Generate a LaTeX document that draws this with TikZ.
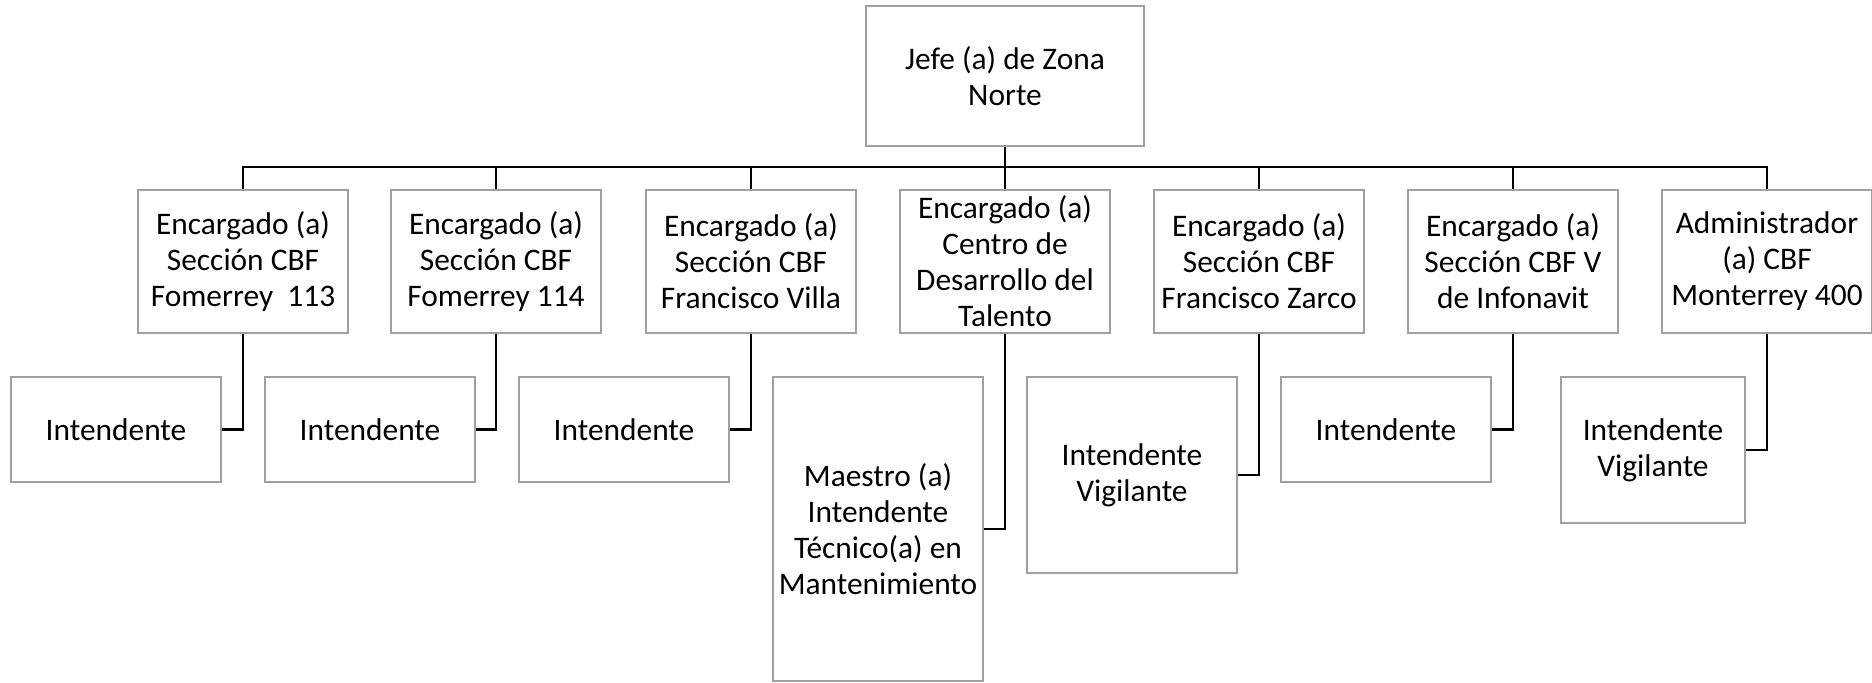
\documentclass[tikz,border=0pt]{standalone}
\usepackage{fontspec}
\setmainfont{Carlito}
\definecolor{boxgray}{RGB}{160,160,160}
\begin{document}
\begin{tikzpicture}[x=0.5pt,y=-0.5pt,
  box/.style={draw=boxgray, line width=0.6pt, align=center, inner sep=0pt,
    font=\fontsize{15.7}{18}\selectfont, text=black},
  lvl1/.style={box, minimum width=105pt, minimum height=71.5pt},
  lvl2/.style={box, minimum width=105pt, minimum height=52.5pt},
  conn/.style={draw=black, line width=1.3pt}]
\useasboundingbox (0,0) rectangle (1872,682);
\node[box, minimum width=139pt, minimum height=70pt] (top) at (1005,76) {Jefe (a) de Zona\\Norte};
\node[lvl1] (c1) at (243,261.5) {Encargado (a)\\Sección CBF\\Fomerrey\ \ 113};
\node[lvl1] (c2) at (496,261.5) {Encargado (a)\\Sección CBF\\Fomerrey 114};
\node[lvl1] (c3) at (751,261.5) {Encargado (a)\\Sección CBF\\Francisco Villa};
\node[lvl1] (c4) at (1005,261.5) {Encargado (a)\\Centro de\\Desarrollo del\\Talento};
\node[lvl1] (c5) at (1259,261.5) {Encargado (a)\\Sección CBF\\Francisco Zarco};
\node[lvl1] (c6) at (1513,261.5) {Encargado (a)\\Sección CBF V\\de Infonavit};
\node[lvl1] (c7) at (1767,261.5) {Administrador\\(a) CBF\\Monterrey 400};
\node[lvl2] (i1) at (116,429.5) {Intendente};
\node[lvl2] (i2) at (370,429.5) {Intendente};
\node[lvl2] (i3) at (624,429.5) {Intendente};
\node[box, minimum width=105pt, minimum height=152pt] (m4) at (878,529) {Maestro (a)\\Intendente\\Técnico(a) en\\Mantenimiento};
\node[box, minimum width=105pt, minimum height=98pt] (v5) at (1132,475) {Intendente\\Vigilante};
\node[lvl2] (i6) at (1386,429.5) {Intendente};
\node[box, minimum width=92pt, minimum height=73pt] (v7) at (1653,450) {Intendente\\Vigilante};
\coordinate (bus) at (1005,167);
\draw[conn] (top.south) -- (bus);
\foreach \c in {c1,c2,c3,c4,c5,c6,c7}{
  \draw[conn] (bus) -| (\c.north);
}
\draw[conn] (c1.south) |- (i1.east);
\draw[conn] (c2.south) |- (i2.east);
\draw[conn] (c3.south) |- (i3.east);
\draw[conn] (c4.south) |- (m4.east);
\draw[conn] (c5.south) |- (v5.east);
\draw[conn] (c6.south) |- (i6.east);
\draw[conn] (c7.south) |- (v7.east);
\end{tikzpicture}
\end{document}
